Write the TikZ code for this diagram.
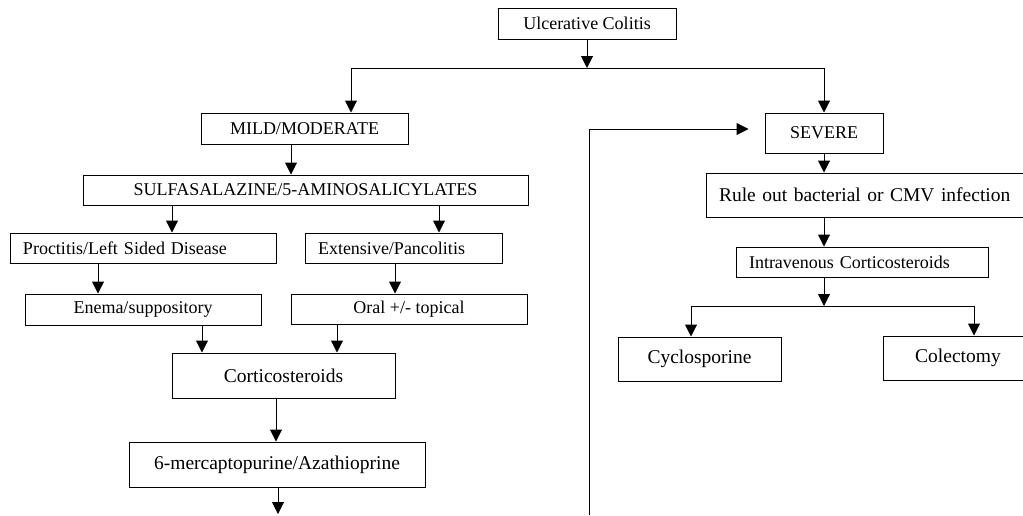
\documentclass[tikz,border=0pt]{standalone}
\usepackage{fontspec}
\setmainfont{Liberation Serif}
\usepackage{tikz}
\usetikzlibrary{arrows.meta,positioning,calc}

\begin{document}
\begin{tikzpicture}[x=1pt, y=-1pt, line width=1pt]

  % Define box and arrow styles
  \tikzset{box/.style={draw, rectangle, inner sep=0pt, font=\fontsize{18}{20}\selectfont},
           bigbox/.style={box, font=\fontsize{19.5}{22}\selectfont},
           lefttext/.style={align=left, inner xsep=13pt},
           arrow/.style={-{Triangle[length=12pt,width=12pt]}}}

  \useasboundingbox (0,0) rectangle (1023,515);
  \clip (0,0) rectangle (1023,515);

  % Nodes
  \node[box, minimum width=178pt, minimum height=31pt] (uc) at (587,23.5) {Ulcerative Colitis};
  \node[box, minimum width=207pt, minimum height=31pt] (mild) at (304.5,128.5) {MILD/MODERATE};
  \node[box, minimum width=445pt, minimum height=30pt] (sulfa) at (305.5,190) {SULFASALAZINE/5-AMINOSALICYLATES};
  \node[box, lefttext, text width=240pt, minimum height=30pt] (proc) at (143,248) {Proctitis/Left Sided Disease};
  \node[box, lefttext, text width=171pt, minimum height=30pt] (ext) at (403.5,248) {Extensive/Pancolitis};
  \node[box, minimum width=236pt, minimum height=31pt] (enema) at (143,309.5) {Enema/suppository};
  \node[box, minimum width=236pt, minimum height=30pt] (oral) at (409,309) {Oral +/- topical};
  \node[bigbox, minimum width=223pt, minimum height=45pt] (cort) at (283.5,375.5) {Corticosteroids};
  \node[bigbox, minimum width=296pt, minimum height=45pt] (mp) at (277,464.5) {6-mercaptopurine/Azathioprine};
  \node[box, minimum width=118pt, minimum height=40pt] (severe) at (824,133) {SEVERE};
  \node[bigbox, lefttext, text width=298pt, minimum height=44pt] (rule) at (868,195) {Rule out bacterial or CMV infection};
  \node[box, lefttext, text width=226pt, minimum height=30pt] (iv) at (862,262) {Intravenous Corticosteroids};
  \node[bigbox, minimum width=163pt, minimum height=44pt] (cyc) at (699.5,359) {Cyclosporine};
  \node[bigbox, minimum width=150pt, minimum height=44pt] (col) at (958,358) {Colectomy};

  \coordinate (top) at (587,68);
  \coordinate (split) at (824,306);
  \coordinate (mpout) at (278,515);
  \coordinate (loop) at (589,515);

  % Arrows
  \draw[arrow] (uc) -- (top);
  \draw[arrow] (top) -| ([xshift=46.5pt]mild.north);
  \draw[arrow] (top) -| (severe.north);
  \draw[arrow] ([xshift=-13.5pt]mild.south) -- ([xshift=-13.5pt]mild.south |- sulfa.north);
  \draw[arrow] ([xshift=29pt]proc.north |- sulfa.south) -- ([xshift=29pt]proc.north);
  \draw[arrow] ([xshift=35.5pt]ext.north |- sulfa.south) -- ([xshift=35.5pt]ext.north);
  \draw[arrow] ([xshift=-45pt]proc.south) -- ([xshift=-45pt]proc.south |- enema.north);
  \draw[arrow] ([xshift=-8.5pt]ext.south) -- ([xshift=-8.5pt]ext.south |- oral.north);
  \draw[arrow] ([xshift=-81.5pt]cort.north |- enema.south) -- ([xshift=-81.5pt]cort.north);
  \draw[arrow] ([xshift=53.5pt]cort.north |- oral.south) -- ([xshift=53.5pt]cort.north);
  \draw[arrow] ([xshift=-7.5pt]cort.south) -- ([xshift=-7.5pt]cort.south |- mp.north);
  \draw[arrow] (mpout |- mp.south) -- ([yshift=1pt]mpout);
  \draw[arrow] (loop) |- ([xshift=-16pt,yshift=4pt]severe.west);
  \draw[arrow] (severe) -- (severe |- rule.north);
  \draw[arrow] (severe |- rule.south) -- (severe |- iv.north);
  \draw[arrow] (severe |- iv.south) -- (split);
  \draw[arrow] (split) -| ([xshift=-8.5pt]cyc.north);
  \draw[arrow] (split) -| ([xshift=16pt]col.north);

\end{tikzpicture}
\end{document}
